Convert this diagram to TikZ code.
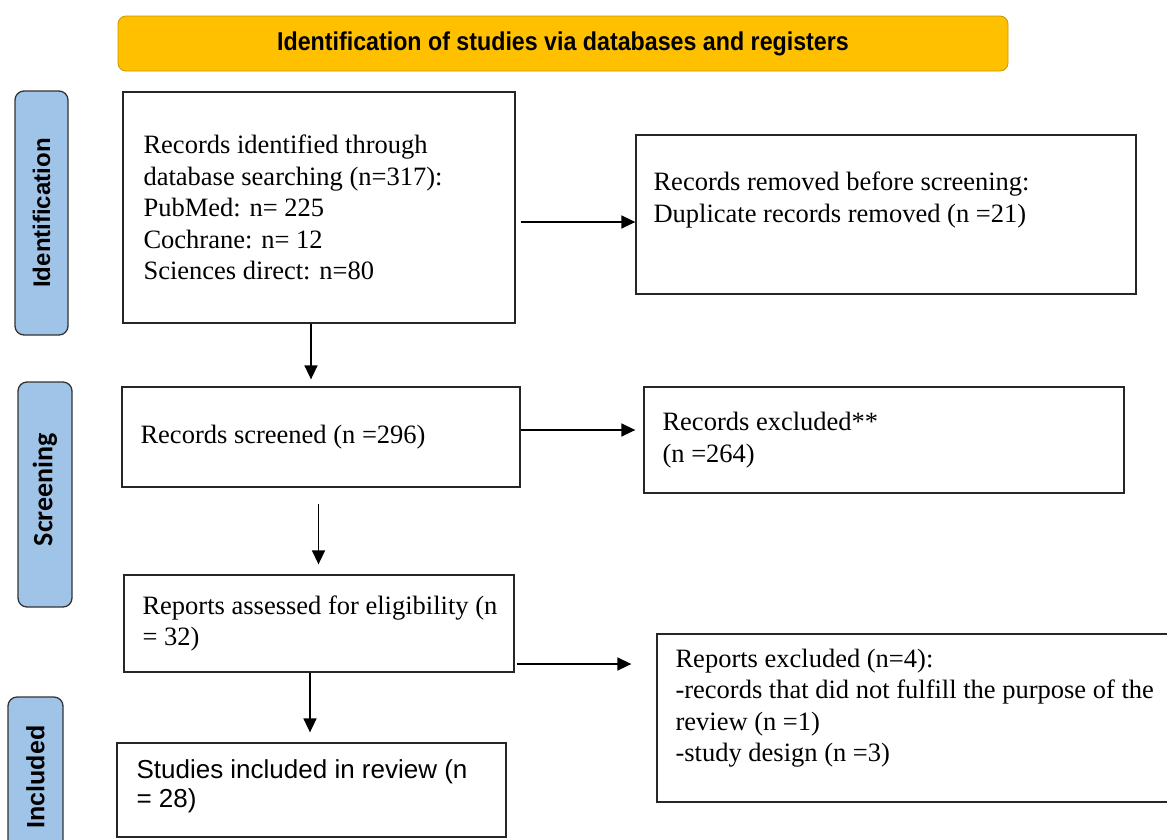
\documentclass[tikz,border=0pt]{standalone}
\usepackage{fontspec}
\setmainfont{Liberation Serif}
\newfontfamily\arialf{Liberation Sans}
\newfontfamily\titlef[FakeStretch=0.9]{Liberation Sans}
\newfontfamily\calibf{Carlito}
\usetikzlibrary{arrows.meta}
\definecolor{titleyellow}{RGB}{255,192,0}
\definecolor{titleborder}{RGB}{200,150,0}
\definecolor{sideblue}{RGB}{159,196,232}
\tikzset{
  box/.style={draw=black!85, line width=1.3pt, rectangle, inner sep=0pt},
  arr/.style={line width=1.6pt, -{Triangle[length=14pt,width=13pt]}},
  sidebox/.style={draw=black!80, line width=1.3pt, fill=sideblue, rounded corners=9pt, rotate=90, inner sep=0pt, font=\arialf\bfseries},
  txt/.style={align=left, anchor=west, inner sep=0pt, font=\fontsize{26.5}{31.5}\selectfont},
  sanstxt/.style={align=left, anchor=west, inner sep=0pt, font=\arialf\fontsize{26}{29}\selectfont}
}
\begin{document}
\begin{tikzpicture}[x=1pt,y=-1pt]
\useasboundingbox (0,0) rectangle (1167,839);
\clip (0,0) rectangle (1167,839);

% title
\node[draw=titleborder, line width=0.8pt, fill=titleyellow, rounded corners=8pt,
      minimum width=890pt, minimum height=55pt, inner sep=0pt,
      font=\titlef\bfseries\fontsize{25.8}{30}\selectfont] (T) at (563,43.5)
      {Identification of studies via databases and registers};

% side labels
\node[sidebox, minimum width=244pt, minimum height=53pt, font=\arialf\bfseries\fontsize{24}{28}\selectfont] (S1) at (41.5,213) {Identification};
\node[sidebox, minimum width=225pt, minimum height=54pt, font=\calibf\bfseries\fontsize{28}{32}\selectfont] (S2) at (45,494.5) {\hspace*{10pt}Screening};
\node[sidebox, minimum width=160pt, minimum height=55pt, font=\arialf\bfseries\fontsize{25}{29}\selectfont] (S3) at (35.5,777) {Included};

% boxes
\node[box, minimum width=392pt, minimum height=231pt] (A) at (319,207.5) {};
\node[txt] (At) at ([xshift=21pt]A.west) {Records identified through\\database searching (n=317):\\PubMed: n= 225\\Cochrane: n= 12\\Sciences direct: n=80};

\node[box, minimum width=500pt, minimum height=159pt] (B) at (886,214.5) {};
\node[txt] (Bt) at ([xshift=18pt,yshift=14.5pt]B.west) {Records removed before screening:\\Duplicate records removed (n =21)};

\node[box, minimum width=398pt, minimum height=100pt] (C) at (321,437) {};
\node[txt] (Ct) at ([xshift=19pt]C.west) {Records screened (n =296)};

\node[box, minimum width=480pt, minimum height=106pt] (D) at (884,440) {};
\node[txt] (Dt) at ([xshift=19pt]D.west) {Records excluded**\\(n =264)};

\node[box, minimum width=390pt, minimum height=97pt] (E) at (319,623.5) {};
\node[txt] (Et) at ([xshift=19pt]E.west) {Reports assessed for eligibility (n\\= 32)};

\node[box, minimum width=543pt, minimum height=168pt] (F) at (928.5,718) {};
\node[txt] (Ft) at ([xshift=19pt,yshift=10pt]F.west) {Reports excluded (n=4):\\-records that did not fulfill the purpose of the\\review (n =1)\\-study design (n =3)};

\node[box, minimum width=389pt, minimum height=94pt] (G) at (311.5,790) {};
\node[sanstxt] (Gt) at ([xshift=20pt,yshift=4pt]G.west) {Studies included in review (n\\= 28)};

% connectors
\draw[arr] ([xshift=5pt,yshift=-14.5pt]A.east) -- ([yshift=-7.5pt]B.west);
\draw[arr] ([xshift=-8pt]A.south) -- ([xshift=-10pt,yshift=7pt]C.north);
\draw[arr] ([yshift=7pt]C.east) -- ([xshift=-8pt,yshift=10pt]D.west);
\draw[arr] ([xshift=-2.5pt,yshift=-16pt]C.south) -- ([xshift=-0.5pt,yshift=10pt]E.north);
\draw[arr] ([xshift=2pt,yshift=-40.5pt]E.east) -- ([xshift=-25pt,yshift=54pt]F.west);
\draw[arr] ([xshift=-9pt]E.south) -- ([xshift=-1.5pt,yshift=10pt]G.north);
\end{tikzpicture}
\end{document}
